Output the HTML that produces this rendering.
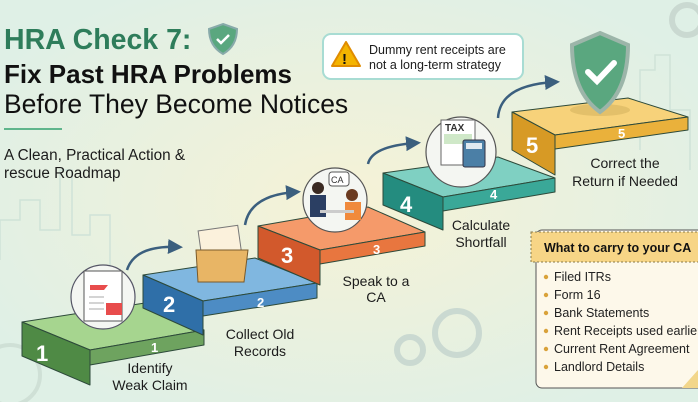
<!DOCTYPE html><html><head><style>body{margin:0;width:698px;height:402px;overflow:hidden;font-family:"Liberation Sans",sans-serif}</style></head><body>
<svg width="698" height="402" viewBox="0 0 698 402" xmlns="http://www.w3.org/2000/svg" font-family="Liberation Sans, sans-serif">
<defs><radialGradient id="g" cx="0.5" cy="0.5" r="0.6"><stop offset="0" stop-color="#f6f2d6"/><stop offset="1" stop-color="#dff0e6"/></radialGradient>
<marker id="ar" markerWidth="6" markerHeight="6" refX="4" refY="3" orient="auto"><path d="M0,0 L6,3 L0,6 z" fill="#3b5f7e"/></marker></defs>
<rect width="698" height="402" fill="url(#g)"/>
<g stroke="#cfe3d8" fill="none" stroke-width="1.5"><path d="M0,260 V220 H20 V200 H40 V230 H60 V170 H72 V235 H90 V215 H110 V270"/><path d="M640,150 V70 H655 V55 H670 V110 H690 V170"/></g>
<g fill="none" stroke="#cad9d1" stroke-width="6"><circle cx="457" cy="333" r="22"/><circle cx="410" cy="350" r="13"/><circle cx="687" cy="20" r="15"/></g>
<circle cx="10" cy="375" r="30" fill="none" stroke="#cfe0d6" stroke-width="4"/>
<g stroke="#2d4a3a" stroke-width="1" stroke-linejoin="round">
<polygon points="22,322 145,303 204,330 90,350" fill="#a6d58f"/><polygon points="22,322 90,350 90,385 22,356" fill="#4f8a45"/><polygon points="90,350 204,330 204,345 90,365" fill="#6ea35f"/>
<polygon points="143,275 255,258 317,283 203,301" fill="#80b7e0"/><polygon points="143,275 203,301 203,335 143,308" fill="#2f6fa8"/><polygon points="203,301 317,283 317,298 203,316" fill="#4d8cc4"/>
<polygon points="258,226 368,207 425,232 320,250" fill="#f59a6a"/><polygon points="258,226 320,250 320,285 258,258" fill="#d2592c"/><polygon points="320,250 425,232 425,246 320,264" fill="#e8763f"/>
<polygon points="383,173 498,157 555,178 443,197" fill="#7fd0c2"/><polygon points="383,173 443,197 443,230 383,205" fill="#248c7f"/><polygon points="443,197 555,178 555,192 443,211" fill="#3aa898"/>
<polygon points="512,112 628,98 688,117 555,135" fill="#f7d27a"/><polygon points="512,112 555,135 555,175 512,150" fill="#d79a25"/><polygon points="555,135 688,117 688,130 555,149" fill="#eab13b"/>
</g>
<g fill="#fff" font-weight="bold"><text x="36" y="361" font-size="22">1</text><text x="163" y="312" font-size="22">2</text><text x="281" y="263" font-size="22">3</text><text x="400" y="212" font-size="22">4</text><text x="526" y="153" font-size="22">5</text>
<g font-size="13"><text x="151" y="352">1</text><text x="257" y="307">2</text><text x="373" y="254">3</text><text x="490" y="199">4</text><text x="618" y="138">5</text></g></g>
<g font-size="14" fill="#1c1c1c" text-anchor="middle"><text x="150" y="373">Identify</text><text x="150" y="390">Weak Claim</text><text x="260" y="339">Collect Old</text><text x="260" y="356">Records</text><text x="376" y="286">Speak to a</text><text x="376" y="302">CA</text><text x="481" y="230">Calculate</text><text x="481" y="247">Shortfall</text><text x="625" y="168">Correct the</text><text x="625" y="186">Return if Needed</text></g>
<g fill="none" stroke="#3b5f7e" stroke-width="2.5" marker-end="url(#ar)"><path d="M127,270 Q135,245 178,247"/><path d="M245,225 Q250,195 296,192"/><path d="M368,164 Q372,146 416,143"/><path d="M498,118 Q500,85 555,82"/></g>
<circle cx="103" cy="297" r="32" fill="#f4f6f2" stroke="#556" stroke-width="1.2"/><rect x="84" y="271" width="38" height="50" fill="#fff" stroke="#555"/><path d="M90,285 h18 l-4,5 h-14z M106,303 h16 v12 h-16z" fill="#e84c4c"/><g stroke="#aaa"><line x1="89" y1="297" x2="104" y2="297"/><line x1="89" y1="303" x2="104" y2="303"/><line x1="89" y1="309" x2="104" y2="309"/></g>
<rect x="200" y="228" width="40" height="30" fill="#fbf1dc" stroke="#777" transform="rotate(-8 220 243)"/><path d="M196,250 h52 l-4,32 h-46z" fill="#e8b565" stroke="#7a5a2a"/>
<circle cx="335" cy="200" r="32" fill="#f4f6f2" stroke="#555" stroke-width="1.2"/><rect x="329" y="172" width="20" height="14" rx="3" fill="#fff" stroke="#555"/><text x="331" y="183" font-size="9" fill="#333">CA</text><circle cx="318" cy="188" r="6" fill="#3a2a22"/><rect x="310" y="195" width="16" height="22" fill="#2b3f63"/><circle cx="352" cy="195" r="6" fill="#6b3b20"/><rect x="345" y="202" width="16" height="18" fill="#f08a3c"/><rect x="320" y="210" width="34" height="3" fill="#ccc"/>
<circle cx="461" cy="152" r="35" fill="#f4f6f2" stroke="#555" stroke-width="1.2"/><rect x="441" y="120" width="34" height="45" fill="#fff" stroke="#666"/><text x="445" y="131" font-size="10" font-weight="bold" fill="#333">TAX</text><rect x="444" y="134" width="28" height="10" fill="#cfe8c8"/><rect x="463" y="140" width="22" height="27" rx="2" fill="#4b7fa6" stroke="#334"/><rect x="466" y="143" width="16" height="6" fill="#dfe9f0"/>
<ellipse cx="600" cy="110" rx="30" ry="6" fill="#e3c06a"/>
<path d="M600,33 L628,45 Q628,92 600,112 Q572,92 572,45z" fill="#5aa77f" stroke="#9cb5a9" stroke-width="4"/><path d="M588,72 l9,9 l17,-18" fill="none" stroke="#fff" stroke-width="6" stroke-linecap="round"/>
<text x="4" y="49" font-size="28.5" font-weight="bold" fill="#2e7d5b">HRA Check 7:</text>
<path d="M223,24 L237,29 Q237,46 223,54 Q209,46 209,29z" fill="#5aa77f" stroke="#8aa" stroke-width="2"/><path d="M217,39 l4,4 l8,-8" fill="none" stroke="#fff" stroke-width="2.5"/>
<text x="4" y="83" font-size="26" font-weight="bold" fill="#111">Fix Past HRA Problems</text>
<text x="4" y="113" font-size="26.5" fill="#111">Before They Become Notices</text>
<line x1="4" y1="129" x2="62" y2="129" stroke="#5fb58c" stroke-width="2"/>
<text x="4" y="160" font-size="15.3" fill="#1c1c1c">A Clean, Practical Action &amp;</text><text x="4" y="178" font-size="15.3" fill="#1c1c1c">rescue Roadmap</text>
<rect x="323" y="34" width="200" height="45" rx="8" fill="#fff" stroke="#a8dcd3" stroke-width="2"/>
<path d="M346,42 L360,66 H332z" fill="#f4b400" stroke="#e08c00" stroke-linejoin="round" stroke-width="2"/><text x="342" y="64" font-size="15" font-weight="bold" fill="#111">!</text>
<text x="369" y="54" font-size="12.5" fill="#1c1c1c">Dummy rent receipts are</text><text x="369" y="69" font-size="12.5" fill="#1c1c1c">not a long-term strategy</text>
<rect x="536" y="230" width="170" height="158" rx="6" fill="#fdf8ea" stroke="#555"/>
<rect x="531" y="232" width="175" height="30" fill="#f7d586" stroke="#8a7a4a" stroke-dasharray="2,2"/>
<text x="544" y="252" font-size="12.5" font-weight="bold" fill="#111">What to carry to your CA</text>
<g font-size="12.5" fill="#222"><text x="554" y="281">Filed ITRs</text><text x="554" y="299">Form 16</text><text x="554" y="317">Bank Statements</text><text x="554" y="335">Rent Receipts used earlier</text><text x="554" y="353">Current Rent Agreement</text><text x="554" y="371">Landlord Details</text></g>
<g fill="#d9a23a"><circle cx="546" cy="277" r="2.2"/><circle cx="546" cy="295" r="2.2"/><circle cx="546" cy="313" r="2.2"/><circle cx="546" cy="331" r="2.2"/><circle cx="546" cy="349" r="2.2"/><circle cx="546" cy="367" r="2.2"/></g>
<path d="M682,388 L698,370 V388z" fill="#f2d68a"/>
</svg></body></html>
